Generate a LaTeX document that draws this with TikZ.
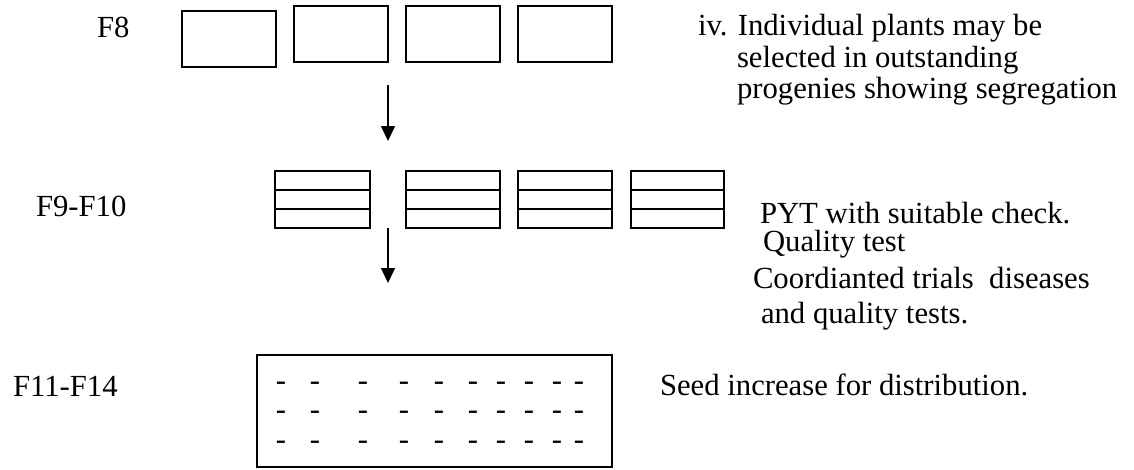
\documentclass[tikz,border=0pt]{standalone}
\usepackage{fontspec}
\setmainfont{Liberation Serif}
\usetikzlibrary{arrows.meta}
\begin{document}
\begin{tikzpicture}[x=1pt,y=-1pt,
  every node/.style={inner sep=0pt, outer sep=0pt},
  lbl/.style={anchor=base west, font=\fontsize{30.7}{31.7}\selectfont},
  dsh/.style={anchor=base, font=\fontsize{30.7}{31.7}\selectfont},
  plainbox/.style={draw, line width=1.3pt, minimum width=94pt, minimum height=56pt},
  stripbox/.style={draw, line width=1.3pt, minimum width=94pt, minimum height=57pt},
  bigbox/.style={draw, line width=1.3pt, minimum width=355pt, minimum height=112pt},
  arr/.style={line width=1.3pt, -{Triangle[length=15pt,width=14pt]}}]
\useasboundingbox (0,0) rectangle (1134,469);
% row F8
\node[lbl] (tF8) at (97,37.7) {F8};
\node[plainbox] (b1) at (229,39) {};
\node[plainbox] (b2) at (341,34) {};
\node[plainbox] (b3) at (453,34) {};
\node[plainbox] (b4) at (565,34) {};
\node[lbl] (n1) at (698,35.5) {iv. Individual plants may be};
\node[lbl] (n2) at (737,67) {selected in outstanding};
\node[lbl] (n3) at (737,98.3) {progenies showing segregation};
% arrow 1
\coordinate (a1s) at (388,85);
\coordinate (a1e) at (388,141);
\draw[arr] (a1s) -- (a1e);
% row F9-F10
\node[lbl] (tF9) at (36,216) {F9-F10};
\node[stripbox, minimum width=95pt] (c1) at (322.5,199.5) {};
\node[stripbox] (c2) at (453,199.5) {};
\node[stripbox] (c3) at (565,199.5) {};
\node[stripbox, minimum width=93pt] (c4) at (677.5,199.5) {};
\foreach \c in {c1,c2,c3,c4}{
  \draw[line width=1.3pt] (\c.west |- 0,190) -- (\c.east |- 0,190);
  \draw[line width=1.3pt] (\c.west |- 0,209) -- (\c.east |- 0,209);
}
\node[lbl] (p1) at (760,223) {PYT with suitable check.};
\node[lbl] (p2) at (763,251) {Quality test};
\node[lbl] (p3) at (753,288) {Coordianted trials~ diseases};
\node[lbl] (p4) at (761,323) {and quality tests.};
% arrow 2
\coordinate (a2e) at (388,283);
\draw[arr] (c1.south -| a2e) -- (a2e);
% row F11-F14
\node[lbl] (tF11) at (13,396) {F11-F14};
\node[bigbox] (d) at (434.5,411) {};
\foreach \y [count=\r] in {390,419,449}{
  \foreach \x [count=\k] in {281,315,363,404,439,473,501,529,557,579}{
    \node[dsh] (h\r-\k) at (\x,\y) {-};
  }
}
\node[lbl] (s1) at (660,395) {Seed increase for distribution.};
\end{tikzpicture}
\end{document}
